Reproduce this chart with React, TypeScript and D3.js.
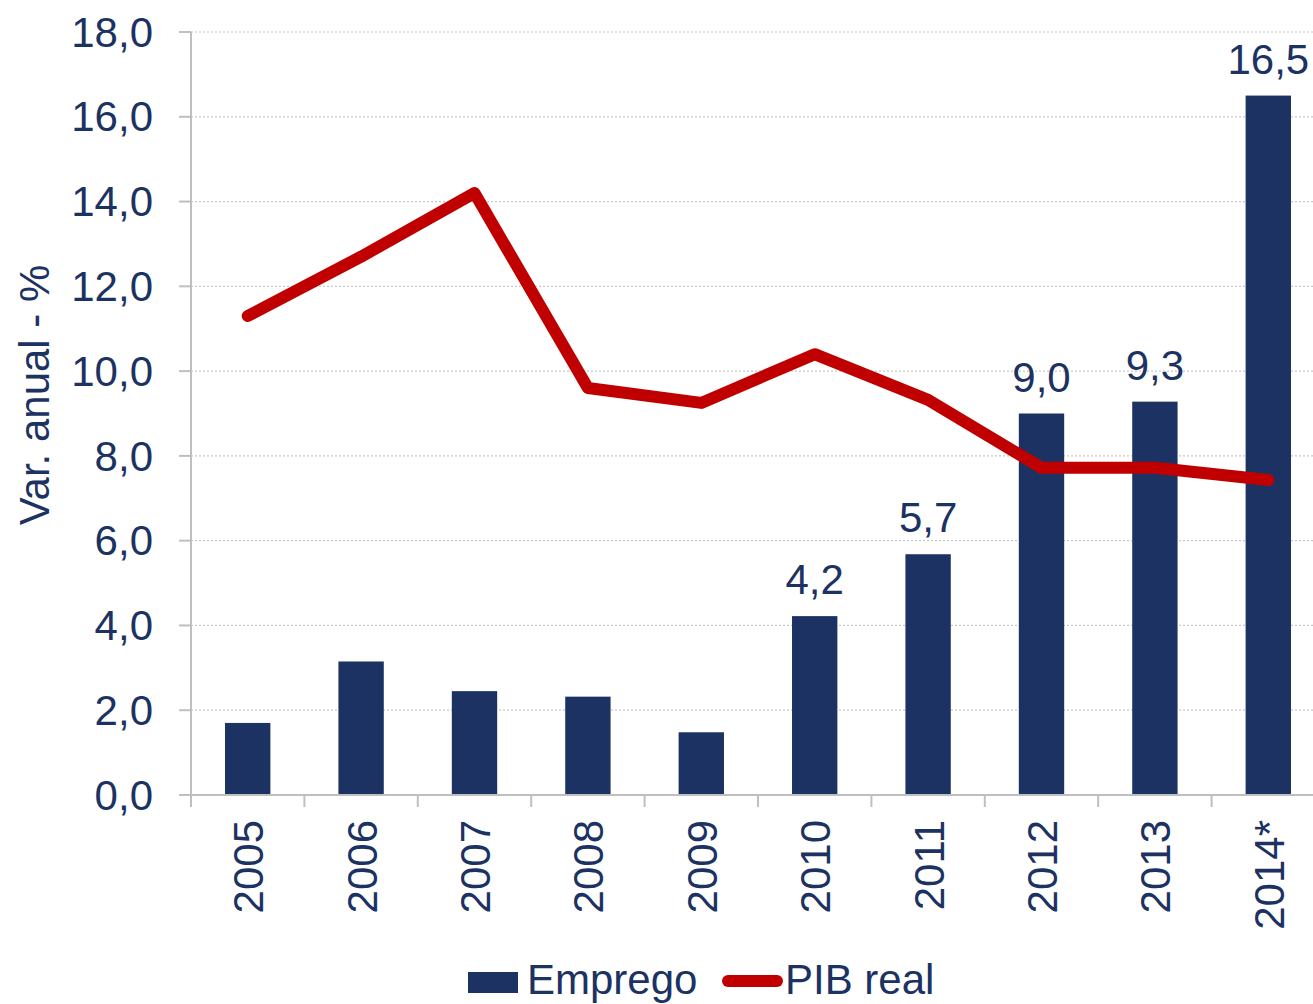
import * as d3 from 'd3';

const YEARS = ['2005', '2006', '2007', '2008', '2009', '2010', '2011', '2012', '2013', '2014*'];
const EMPREGO = [1.7, 3.15, 2.45, 2.32, 1.48, 4.22, 5.68, 9.0, 9.28, 16.5];
const PIB_REAL = [11.3, 12.7, 14.2, 9.6, 9.25, 10.4, 9.32, 7.72, 7.72, 7.43];
const LABELLED = ['2010', '2011', '2012', '2013', '2014*'];
const Y_TICKS = [0, 2, 4, 6, 8, 10, 12, 14, 16, 18];

const W = 1313;
const H = 1004;
const NAVY = '#1b3262';
const RED = '#c00000';
const AXIS = '#bfbfbf';
const FONT = '"Liberation Sans", Arial, sans-serif';
const FS = 42;

const fmt = (v: number) => d3.format('.1f')(v).replace('.', ',');

export default function App() {
  const margin = { top: 32, left: 191, bottom: 209 };
  const x = d3.scaleBand<string>()
    .domain(YEARS)
    .range([margin.left, margin.left + 113.4 * YEARS.length])
    .paddingInner(0.6)
    .paddingOuter(0.3);
  const y = d3.scaleLinear().domain([0, 18]).range([H - margin.bottom, margin.top]);
  const cx = (d: string) => (x(d) ?? 0) + x.bandwidth() / 2;

  const line = d3.line<number>()
    .x((_, i) => cx(YEARS[i]))
    .y(d => y(d));

  const step = x.step();
  const x0 = margin.left;
  const xEnd = x.range()[1];
  const y0 = y(0);

  return (
    <svg width={W} height={H} style={{ position: 'absolute', left: 0, top: 0, fontFamily: FONT }}>
      <rect width={W} height={H} fill="#fff" />

      {/* grid */}
      {Y_TICKS.filter(t => t > 0).map(t => (
        <line key={t} x1={x0} x2={xEnd} y1={y(t)} y2={y(t)}
          stroke="#c8c8c8" strokeWidth={1.2} strokeDasharray="2,2" />
      ))}

      {/* bars */}
      {YEARS.map((yr, i) => (
        <rect key={yr} x={x(yr)} y={y(EMPREGO[i])} width={x.bandwidth()}
          height={y0 - y(EMPREGO[i])} fill={NAVY} />
      ))}

      {/* y axis */}
      <line x1={x0} x2={x0} y1={margin.top} y2={y0 + 12} stroke={AXIS} strokeWidth={2} />
      {Y_TICKS.map(t => (
        <g key={t}>
          <line x1={x0 - 12} x2={x0} y1={y(t)} y2={y(t)} stroke={AXIS} strokeWidth={2} />
          <text x={153} y={y(t)} dy="0.35em" textAnchor="end" fontSize={FS} fill={NAVY}>{fmt(t)}</text>
        </g>
      ))}

      {/* x axis */}
      <line x1={x0} x2={xEnd} y1={y0} y2={y0} stroke={AXIS} strokeWidth={2} />
      {YEARS.map((yr, i) => (
        <line key={yr} x1={x0 + step * i} x2={x0 + step * i} y1={y0} y2={y0 + 12}
          stroke={AXIS} strokeWidth={2} />
      ))}
      {YEARS.map(yr => (
        <text key={yr} transform={`translate(${cx(yr) + 15.5},820) rotate(-90)`}
          textAnchor="end" fontSize={FS} fill={NAVY}>{yr}</text>
      ))}

      {/* line */}
      <path d={line(PIB_REAL) ?? ''} fill="none" stroke={RED} strokeWidth={12}
        strokeLinejoin="round" strokeLinecap="round" />

      {/* data labels */}
      {YEARS.map((yr, i) => LABELLED.includes(yr) ? (
        <text key={yr} x={cx(yr)} y={y(EMPREGO[i]) - 22} textAnchor="middle"
          fontSize={FS} fill={NAVY}>{fmt(EMPREGO[i])}</text>
      ) : null)}

      {/* y title */}
      <text transform="translate(49,395) rotate(-90)" textAnchor="middle" fontSize={FS} fill={NAVY}>
        Var. anual - %
      </text>

      {/* legend */}
      <rect x={468} y={972} width={50} height={21} fill={NAVY} />
      <text x={527} y={994} fontSize={FS} fill={NAVY}>Emprego</text>
      <line x1={728} x2={777} y1={981} y2={981} stroke={RED} strokeWidth={12} strokeLinecap="round" />
      <text x={785} y={994} fontSize={FS} fill={NAVY}>PIB real</text>
    </svg>
  );
}
